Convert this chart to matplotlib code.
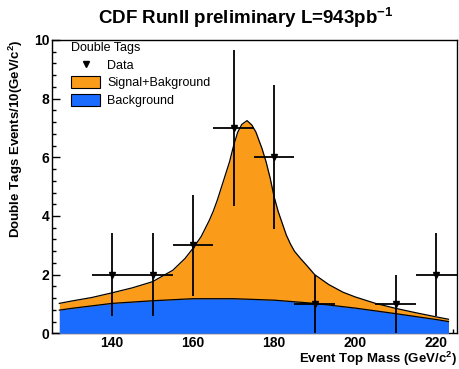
import numpy as np
import matplotlib
matplotlib.use("Agg")
import matplotlib.pyplot as plt
from matplotlib.lines import Line2D
from matplotlib.patches import Patch

plt.rcParams['font.family'] = ['Liberation Sans', 'DejaVu Sans']
plt.rcParams['mathtext.fontset'] = 'custom'
plt.rcParams['mathtext.rm'] = 'Liberation Sans:bold'
plt.rcParams['mathtext.bf'] = 'Liberation Sans:bold'
plt.rcParams['mathtext.default'] = 'bf'

# Data points (bin centres, counts, sqrt(N) errors)
data_mass = [140, 150, 160, 170, 180, 190, 210, 220]
data_count = [2, 2, 3, 7, 6, 1, 1, 2]
data_err = [1.41, 1.41, 1.73, 2.65, 2.45, 1.0, 1.0, 1.41]
bin_half = 5

# Signal+background curve
sb_mass = [127, 130, 135, 140, 145, 150, 155, 158, 160, 162, 164, 165, 166, 167.5,
           169, 170, 171, 172, 173.3, 174.5, 175.5, 177, 178, 179, 180, 181, 182,
           183, 184, 185, 186.5, 188, 190, 193.5, 197, 200, 205, 210, 215, 220, 223]
sb_val = [1.02, 1.10, 1.22, 1.38, 1.55, 1.76, 2.15, 2.55, 2.90, 3.30, 3.85, 4.17, 4.55, 5.20,
          5.85, 6.40, 6.85, 7.12, 7.25, 7.10, 6.86, 6.30, 5.85, 5.30, 4.65, 4.15, 3.75,
          3.35, 3.05, 2.80, 2.55, 2.32, 2.00, 1.66, 1.40, 1.24, 1.02, 0.85, 0.70, 0.56, 0.48]

# Background curve
bg_mass = [127, 130, 140, 150, 160, 170, 180, 190, 200, 210, 220, 223]
bg_val = [0.79, 0.85, 1.02, 1.11, 1.18, 1.18, 1.13, 1.02, 0.86, 0.67, 0.47, 0.40]

orange = '#fa9b1a'
blue = '#1a6cff'

fig = plt.figure(figsize=(4.59, 3.69), dpi=100)
ax = fig.add_axes([0.1133, 0.0967, 0.8823, 0.795])

ax.fill_between(sb_mass, 0, sb_val, color=orange, lw=0, zorder=3)
ax.plot(sb_mass, sb_val, color='black', lw=0.9, zorder=4)
ax.fill_between(bg_mass, 0, bg_val, color=blue, lw=0, zorder=5)
ax.plot(bg_mass, bg_val, color='black', lw=0.9, zorder=6)

ax.errorbar(data_mass, data_count, xerr=bin_half, yerr=data_err, fmt='v',
            color='black', ms=4.5, elinewidth=1.3, capsize=0, zorder=7)

ax.set_xlim(125.2, 225.1)
ax.set_ylim(0, 10)
ax.set_xticks([140, 160, 180, 200, 220])
ax.set_xticks(np.arange(128, 225, 4), minor=True)
ax.set_yticks([0, 2, 4, 6, 8, 10])
ax.set_yticks(np.arange(0, 10.01, 0.4), minor=True)
ax.tick_params(which='both', direction='in', width=1)
ax.tick_params(which='major', length=6, labelsize=10, pad=2)
ax.tick_params(which='minor', length=3)
for lab in ax.get_xticklabels() + ax.get_yticklabels():
    lab.set_fontweight('bold')
for s in ax.spines.values():
    s.set_linewidth(1.0)

ax.set_xlabel(r'Event Top Mass (GeV/c$^{2}$)', fontsize=9.5, fontweight='bold',
              loc='right', labelpad=-0.5)
ax.set_ylabel(r'Double Tags Events/10(GeV/c$^{2}$)', fontsize=9.5, fontweight='bold',
              loc='top', labelpad=6)
fig.suptitle(r'CDF RunII preliminary L=943pb$^{-1}$', fontsize=13.5, fontweight='bold',
             x=0.535, y=0.985)

handles = [Line2D([], [], marker='v', color='black', ls='none', ms=4.5),
           Patch(facecolor=orange, edgecolor='black', lw=0.8),
           Patch(facecolor=blue, edgecolor='black', lw=0.8)]
leg = ax.legend(handles, ['Data', 'Signal+Bakground', 'Background'],
                title='Double Tags', loc='upper left', bbox_to_anchor=(0.035, 1.01),
                frameon=False, fontsize=9, title_fontsize=9, handlelength=2.3,
                handleheight=1.1, handletextpad=0.6, labelspacing=0.35,
                alignment='left', borderaxespad=0)

fig.savefig('out.png', dpi=100)
